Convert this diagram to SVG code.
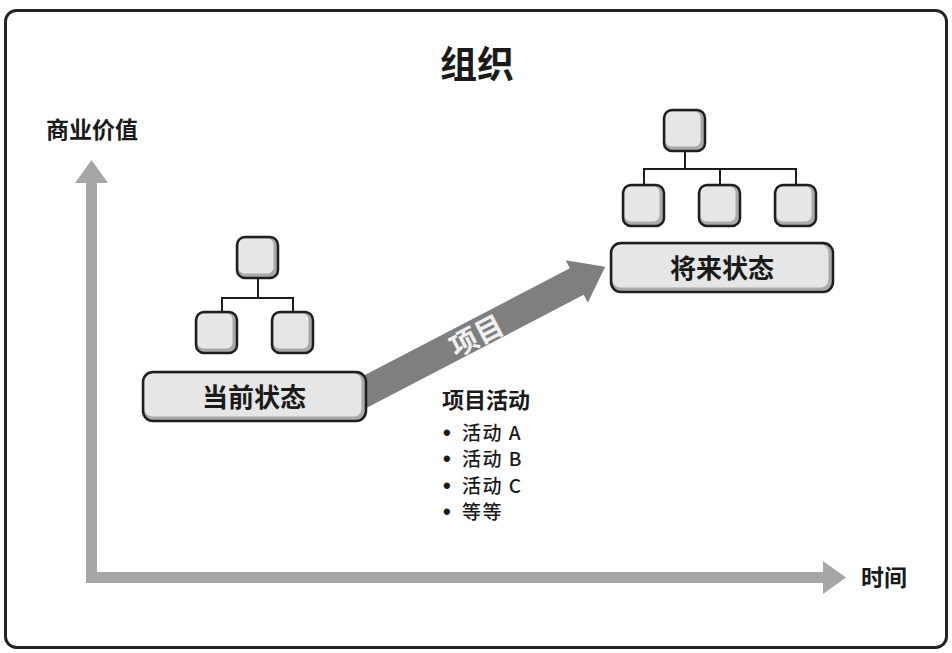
<svg xmlns="http://www.w3.org/2000/svg" width="952" height="653" viewBox="0 0 952 653">
  <defs>
    <style>
      .frame { fill: #ffffff; stroke: #222222; stroke-width: 3; }
      .axis { fill: #a6a6a6; }
      .link { fill: none; stroke: #1e1e1e; stroke-width: 2; }
      .shade { fill: #a9a9a9; stroke: none; }
      .face { fill: #e6e6e6; stroke: none; }
      .edge { fill: none; stroke: #1e1e1e; stroke-width: 2.5; }
      .cjk { font-family: "Noto Sans CJK SC", "Noto Sans", sans-serif; fill: #1a1a1a; }
      .bold { font-weight: 700; }
      .mid { text-anchor: middle; dominant-baseline: central; }
      .item { font-size: 19px; font-weight: 500; letter-spacing: 1.5px; }
      .dot { font-family: "Liberation Sans", sans-serif; font-size: 22px; font-weight: 700; fill: #1a1a1a; }
    </style>
    <!-- small org-chart box: shaded base, light face, dark outline -->
    <g id="unit">
      <rect class="shade" x="0" y="0" width="41" height="41" rx="8"/>
      <rect class="face" x="1.5" y="1.5" width="35" height="35" rx="6"/>
      <rect class="edge" x="0" y="0" width="41" height="41" rx="8"/>
    </g>
  </defs>

  <!-- outer frame -->
  <rect class="frame" x="5.5" y="10.5" width="941" height="637" rx="11"/>

  <!-- title -->
  <text class="cjk bold mid" x="477" y="62" font-size="37">组织</text>

  <!-- axes -->
  <g id="axes">
    <rect class="axis" x="86" y="178" width="11" height="405"/>
    <polygon class="axis" points="91.5,160 108,183 75,183"/>
    <rect class="axis" x="86" y="572" width="740" height="11"/>
    <polygon class="axis" points="846,577.5 823,561 823,594"/>
    <text class="cjk bold" x="46" y="138" font-size="23">商业价值</text>
    <text class="cjk bold" x="861" y="586" font-size="23">时间</text>
  </g>

  <!-- connectors -->
  <g id="connectors">
    <!-- project arrow -->
    <g transform="translate(355,397) rotate(-27.5)">
      <polygon fill="#7f7f7f" points="0,-15 250,-15 250,-24 282,0 250,24 250,15 0,15"/>
      <text class="bold mid" x="136" y="0" font-size="28" fill="#f0f0f0" font-family="Noto Sans CJK SC, Noto Sans, sans-serif">项目</text>
    </g>
    <!-- current org lines -->
    <path class="link" d="M258,278 V298 M222,312 V298 H293 V312"/>
    <!-- future org lines -->
    <path class="link" d="M685,151 V169 M644,185 V169 H796 V185 M720,169 V185"/>
  </g>

  <!-- current state -->
  <g id="current-top"><use href="#unit" x="237" y="237"/></g>
  <g id="current-left"><use href="#unit" x="196" y="312"/></g>
  <g id="current-right"><use href="#unit" x="272" y="312"/></g>
  <g id="current-state">
    <rect class="shade" x="143" y="372" width="223" height="49" rx="10"/>
    <rect class="face" x="144.5" y="373.5" width="217" height="43" rx="8"/>
    <rect class="edge" x="143" y="372" width="223" height="49" rx="10"/>
    <text class="cjk bold mid" x="254" y="395" font-size="26">当前状态</text>
  </g>

  <!-- future state -->
  <g id="future-top"><use href="#unit" x="664" y="110"/></g>
  <g id="future-left"><use href="#unit" x="623" y="185"/></g>
  <g id="future-mid"><use href="#unit" x="699" y="185"/></g>
  <g id="future-right"><use href="#unit" x="775" y="185"/></g>
  <g id="future-state">
    <rect class="shade" x="611" y="243" width="222" height="49" rx="10"/>
    <rect class="face" x="612.5" y="244.5" width="216" height="43" rx="8"/>
    <rect class="edge" x="611" y="243" width="222" height="49" rx="10"/>
    <text class="cjk bold mid" x="722" y="266" font-size="26">将来状态</text>
  </g>

  <!-- activity list -->
  <g id="activities">
    <text class="cjk bold" x="442" y="408" font-size="22">项目活动</text>
    <text class="dot" x="443" y="440">•</text>
    <text class="cjk item" x="462" y="440">活动 A</text>
    <text class="dot" x="443" y="466">•</text>
    <text class="cjk item" x="462" y="466">活动 B</text>
    <text class="dot" x="443" y="493">•</text>
    <text class="cjk item" x="462" y="493">活动 C</text>
    <text class="dot" x="443" y="519">•</text>
    <text class="cjk item" x="462" y="519">等等</text>
  </g>
</svg>
